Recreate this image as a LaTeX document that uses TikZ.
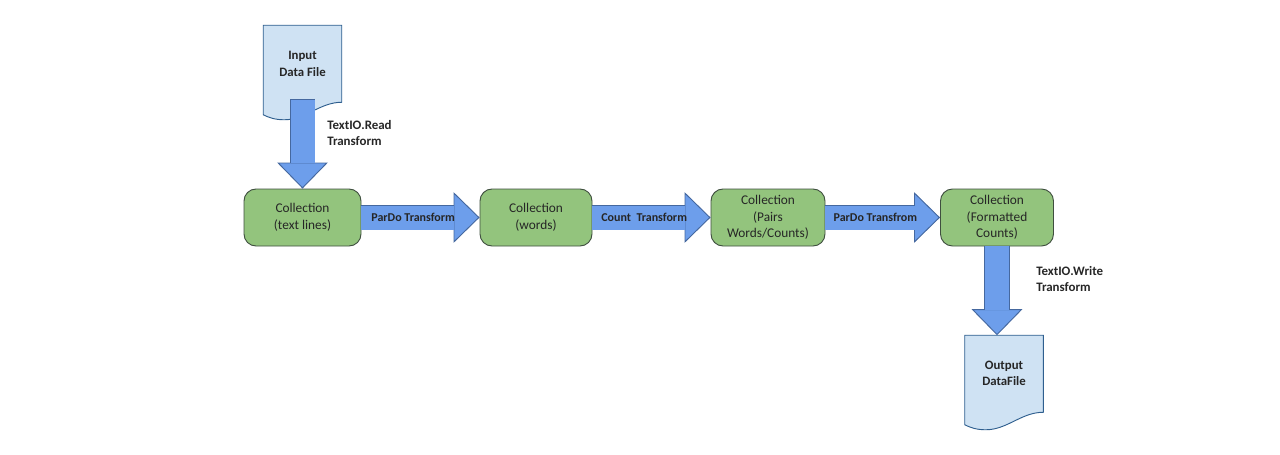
\documentclass[tikz,border=0pt]{standalone}
\usepackage{fontspec}
\setmainfont{Carlito}
\usepackage{xcolor}
\usetikzlibrary{arrows.meta, backgrounds, calc}
\definecolor{collfill}{HTML}{93C47D}
\definecolor{colledge}{HTML}{3F4F3F}
\definecolor{filefill}{HTML}{CFE2F3}
\definecolor{fileedge}{HTML}{2F5F8F}
\definecolor{flowfill}{HTML}{6D9EEB}
\definecolor{flowedge}{HTML}{45689F}

\begin{document}
\begin{tikzpicture}[
  x=0.75pt, y=-0.75pt,
  every node/.style = {font=\fontsize{10}{12.4}\selectfont, text=black!85},
  coll/.style     = {rectangle, rounded corners=9pt, draw=colledge, fill=collfill,
                     line width=0.7pt, minimum height=42.75pt, inner sep=0pt, align=center},
  datafile/.style = {rectangle, minimum width=58.5pt, minimum height=70.5pt, inner sep=0pt},
  filetext/.style = {font=\fontsize{9.6}{12.4}\selectfont\bfseries, align=center, inner sep=0pt},
  flowtext/.style = {font=\fontsize{9}{12}\selectfont\bfseries, inner sep=0pt, xshift=-5.5pt},
  sidetext/.style = {font=\fontsize{9.7}{12.2}\selectfont\bfseries, align=left, anchor=west, inner sep=0pt},
  blockarr/.style = {draw=flowfill, line width=18pt, shorten >=18.8pt, shorten <=#1,
                     preaction={draw=flowedge, line width=19pt, shorten >=0pt, shorten <=#1-0.7pt,
                     -{Triangle[length=19.5pt, width=38pt, fill=flowfill, color=flowedge, line width=0.7pt]}}},
  blockarr/.default = 0pt
]
\useasboundingbox (0,0) rectangle (1280,454);

%% ── FILES ────────────────────────────────────────────────────────
\node[datafile, label={[filetext, yshift=6.5pt]center:Input\\Data File}]  at (302.5, 72.5)  (inputfile)  {};
\node[datafile, label={[filetext, yshift=7pt]center:Output\\DataFile}]    at (1004, 382.5) (outputfile) {};

%% ── COLLECTIONS ──────────────────────────────────────────────────
\node[coll, minimum width=87.75pt] at (302.5, 217.5) (lines)     {Collection\\(text lines)};
\node[coll, minimum width=84pt]    at (536, 217.5)   (words)     {Collection\\(words)};
\node[coll, minimum width=85.5pt]  at (768, 217.5)   (pairs)     {Collection\\(Pairs\\Words/Counts)};
\node[coll, minimum width=84.75pt] at (997, 217.5)   (formatted) {Collection\\(Formatted\\Counts)};

%% ── ARROWS ───────────────────────────────────────────────────────
\draw[blockarr=-15pt] (inputfile.south -| lines.north) -- (lines.north);
\draw[blockarr] (lines)     -- node[flowtext] {ParDo Transform} (words);
\draw[blockarr] (words)     -- node[flowtext] {Count\ \ Transform} (pairs);
\draw[blockarr] (pairs)     -- node[flowtext] {ParDo Transfrom} (formatted);
\draw[blockarr] (formatted.south) -- (outputfile.north -| formatted.south);

%% ── SIDE LABELS ──────────────────────────────────────────────────
\node[sidetext] at (327, 133)  (readlabel)  {TextIO.Read\\Transform};
\node[sidetext] at (1036, 279) (writelabel) {TextIO.Write\\Transform};

%% ── FILE OUTLINES ────────────────────────────────────────────────
\begin{scope}[on background layer]
  \foreach \docname in {inputfile, outputfile} {
    \draw[draw=fileedge, fill=filefill, line width=0.7pt]
      (\docname.north west) -- (\docname.north east) -- ($(\docname.south east)+(0,-17.5)$)
      .. controls ($(\docname.south east)+(-22,-17.5)$) and ($(\docname.south east)+(-36,0)$) .. ($(\docname.south west)+(21,0)$)
      .. controls ($(\docname.south west)+(12,0)$) and ($(\docname.south west)+(6,-2)$) .. ($(\docname.south west)+(0,-5)$)
      -- cycle;
  }
\end{scope}

\end{tikzpicture}
\end{document}
